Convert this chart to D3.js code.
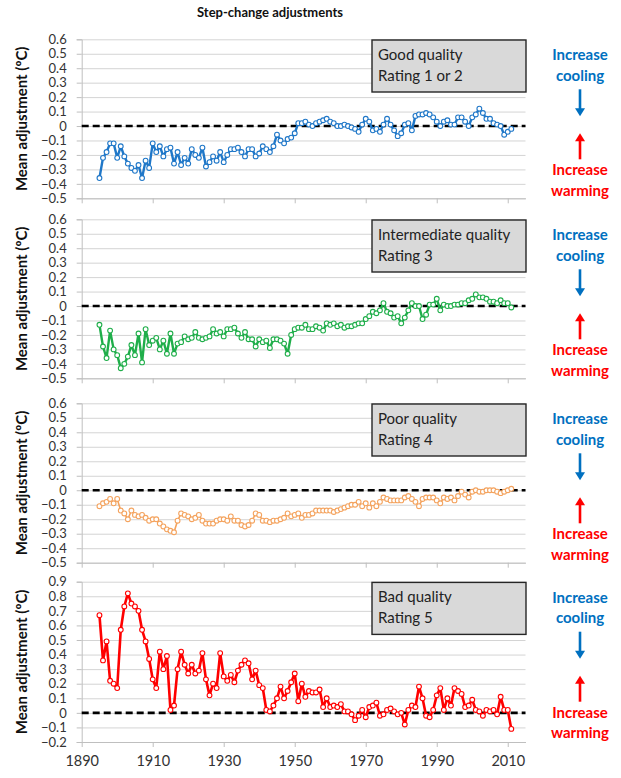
<!DOCTYPE html>
<html>
<head>
<meta charset="utf-8">
<script src="https://cdn.jsdelivr.net/npm/d3@7"></script>
<style>
  body { margin: 0; background: #fff; }
  text { font-family: Lato, "Open Sans", sans-serif; }
</style>
</head>
<body>
<svg id="chart" width="621" height="778"></svg>
<script>
// Annual mean step-change adjustments (°C), 1895–2011, by station quality rating
const years = d3.range(1895, 2012);

const goodQuality = [
  -0.36, -0.22, -0.18, -0.12, -0.12, -0.22, -0.14, -0.21, -0.26, -0.29,
  -0.31, -0.27, -0.36, -0.24, -0.29, -0.12, -0.18, -0.14, -0.21, -0.16,
  -0.15, -0.26, -0.18, -0.27, -0.22, -0.26, -0.16, -0.20, -0.22, -0.15,
  -0.28, -0.25, -0.21, -0.24, -0.18, -0.25, -0.20, -0.16, -0.16, -0.15,
  -0.18, -0.21, -0.16, -0.16, -0.21, -0.19, -0.14, -0.16, -0.18, -0.14,
  -0.06, -0.10, -0.12, -0.09, -0.08, -0.05, 0.02, 0.02, 0.03, 0.01,
  0.00, 0.02, 0.03, 0.04, 0.05, 0.03, 0.02, 0.00, 0.00, 0.01,
  0.00, -0.01, -0.02, -0.04, 0.01, 0.05, 0.03, -0.03, -0.02, -0.04,
  0.01, 0.05, 0.01, -0.03, -0.07, -0.05, 0.01, 0.02, -0.03, 0.07,
  0.08, 0.08, 0.09, 0.08, 0.06, 0.03, 0.00, 0.03, 0.04, 0.01,
  0.01, 0.06, 0.06, 0.03, 0.00, 0.06, 0.08, 0.12, 0.09, 0.05,
  0.05, 0.02, 0.01, 0.00, -0.06, -0.04, -0.02
];

const intermediateQuality = [
  -0.13, -0.28, -0.36, -0.17, -0.30, -0.34, -0.43, -0.40, -0.35, -0.27,
  -0.34, -0.19, -0.39, -0.16, -0.27, -0.24, -0.22, -0.30, -0.24, -0.33,
  -0.19, -0.33, -0.26, -0.25, -0.21, -0.23, -0.22, -0.18, -0.22, -0.23,
  -0.22, -0.21, -0.16, -0.19, -0.18, -0.21, -0.16, -0.16, -0.15, -0.19,
  -0.22, -0.18, -0.23, -0.23, -0.28, -0.23, -0.25, -0.24, -0.29, -0.23,
  -0.23, -0.24, -0.26, -0.33, -0.20, -0.16, -0.15, -0.15, -0.13, -0.16,
  -0.16, -0.14, -0.15, -0.17, -0.12, -0.13, -0.12, -0.14, -0.13, -0.15,
  -0.14, -0.14, -0.13, -0.12, -0.12, -0.09, -0.07, -0.04, -0.05, -0.03,
  0.02, -0.04, -0.05, -0.08, -0.07, -0.12, -0.08, -0.03, 0.02, 0.00,
  0.00, -0.09, -0.06, 0.01, 0.01, 0.05, -0.03, 0.01, 0.00, 0.00,
  0.01, 0.01, 0.02, 0.02, 0.04, 0.05, 0.08, 0.06, 0.06, 0.05,
  0.03, 0.03, 0.02, 0.04, 0.02, 0.02, -0.01
];

const poorQuality = [
  -0.11, -0.09, -0.08, -0.06, -0.09, -0.06, -0.14, -0.16, -0.20, -0.14,
  -0.17, -0.18, -0.17, -0.19, -0.21, -0.20, -0.20, -0.23, -0.25, -0.27,
  -0.28, -0.29, -0.21, -0.16, -0.17, -0.18, -0.20, -0.19, -0.17, -0.21,
  -0.23, -0.23, -0.23, -0.21, -0.20, -0.20, -0.21, -0.18, -0.21, -0.21,
  -0.24, -0.25, -0.24, -0.21, -0.16, -0.17, -0.21, -0.21, -0.22, -0.21,
  -0.21, -0.20, -0.19, -0.16, -0.18, -0.17, -0.16, -0.19, -0.17, -0.17,
  -0.16, -0.14, -0.14, -0.14, -0.14, -0.14, -0.15, -0.14, -0.13, -0.12,
  -0.11, -0.10, -0.10, -0.08, -0.11, -0.09, -0.12, -0.09, -0.11, -0.08,
  -0.05, -0.06, -0.07, -0.07, -0.07, -0.07, -0.05, -0.04, -0.06, -0.08,
  -0.11, -0.06, -0.05, -0.05, -0.05, -0.07, -0.09, -0.05, -0.06, -0.05,
  -0.07, -0.04, -0.01, -0.03, -0.05, -0.01, 0.00, -0.01, -0.01, 0.00,
  0.00, 0.00, -0.01, -0.02, -0.01, 0.00, 0.01
];

const badQuality = [
  0.67, 0.36, 0.49, 0.22, 0.20, 0.17, 0.57, 0.73, 0.82, 0.75,
  0.73, 0.70, 0.57, 0.49, 0.37, 0.23, 0.17, 0.42, 0.30, 0.39,
  0.02, 0.05, 0.30, 0.42, 0.33, 0.27, 0.33, 0.27, 0.29, 0.41,
  0.23, 0.12, 0.20, 0.17, 0.41, 0.25, 0.22, 0.26, 0.21, 0.29,
  0.33, 0.36, 0.34, 0.23, 0.29, 0.19, 0.17, 0.02, 0.01, 0.05,
  0.10, 0.18, 0.10, 0.15, 0.21, 0.27, 0.08, 0.20, 0.11, 0.15,
  0.14, 0.14, 0.16, 0.04, 0.10, 0.04, 0.05, 0.04, 0.06, 0.01,
  0.01, -0.01, -0.05, -0.02, 0.02, -0.03, 0.04, 0.05, 0.07, -0.02,
  -0.01, 0.02, 0.03, 0.01, -0.01, 0.00, -0.08, 0.02, 0.05, 0.04,
  0.18, 0.10, -0.02, -0.03, 0.02, 0.12, 0.17, 0.02, 0.10, 0.05,
  0.17, 0.15, 0.13, 0.04, 0.05, 0.09, 0.02, 0.01, -0.02, 0.02,
  0.01, 0.02, -0.01, 0.11, 0.02, 0.02, -0.11
];

const xTickYears = [1890, 1910, 1930, 1950, 1970, 1990, 2010];
const yTicksStandard = [-0.5, -0.4, -0.3, -0.2, -0.1, 0, 0.1, 0.2, 0.3, 0.4, 0.5, 0.6];
const yTicksBad = [-0.2, -0.1, 0, 0.1, 0.2, 0.3, 0.4, 0.5, 0.6, 0.7, 0.8, 0.9];

const qualityLabels = [
  ["Good quality", "Rating 1 or 2"],
  ["Intermediate quality", "Rating 3"],
  ["Poor quality", "Rating 4"],
  ["Bad quality", "Rating 5"]
];
const seriesColors = ["#1f77c8", "#1fae4a", "#f4a35e", "#ff0000"];

const chartTitle = "Step-change adjustments";
const yTitle = "Mean adjustment (ºC)";
const coolingText = ["Increase", "cooling"];
const warmingText = ["Increase", "warming"];
const coolingColor = "#0070c0";
const warmingColor = "#ff0000";

// Layout
const svg = d3.select("#chart");
const plotLeft = 81.7, plotRight = 525.5;
const x = d3.scaleLinear().domain([1890, 2015]).range([plotLeft, plotRight]);

const panels = [
  { top: 39.3,  bottom: 198.3, ticks: yTicksStandard, values: goodQuality,         lineWidth: 2.4 },
  { top: 219.3, bottom: 378.3, ticks: yTicksStandard, values: intermediateQuality, lineWidth: 2.4 },
  { top: 403.3, bottom: 562.7, ticks: yTicksStandard, values: poorQuality,         lineWidth: 1.6 },
  { top: 581.7, bottom: 742.0, ticks: yTicksBad,      values: badQuality,          lineWidth: 2.6 }
];

const fmt = v => (Math.abs(v) < 1e-9 ? "0" : d3.format(".1f")(v));

// Title
svg.append("text")
  .attr("x", 270).attr("y", 17)
  .attr("text-anchor", "middle")
  .attr("font-size", 13).attr("font-weight", 700)
  .attr("fill", "#111")
  .text(chartTitle);

// Arrow helper: line with a triangular head at (x, y2)
function arrow(g, cx, y1, y2, color) {
  const dir = Math.sign(y2 - y1);
  g.append("line")
    .attr("x1", cx).attr("x2", cx)
    .attr("y1", y1).attr("y2", y2 - dir * 6)
    .attr("stroke", color).attr("stroke-width", 2.6);
  g.append("path")
    .attr("d", `M${cx - 5},${y2 - dir * 8} L${cx + 5},${y2 - dir * 8} L${cx},${y2} Z`)
    .attr("fill", color);
}

panels.forEach((p, i) => {
  const [lo, hi] = d3.extent(p.ticks);
  const y = d3.scaleLinear().domain([lo, hi]).range([p.bottom, p.top]);
  const g = svg.append("g");

  // Horizontal gridlines
  g.append("g")
    .attr("transform", `translate(${plotLeft},0)`)
    .call(d3.axisLeft(y).tickValues(p.ticks).tickSizeInner(-(plotRight - plotLeft)).tickSizeOuter(0).tickFormat(""))
    .call(a => a.select(".domain").remove())
    .call(a => a.selectAll(".tick line").attr("stroke", "#d4d4d4").attr("stroke-width", 1));
  // Value axis with short outward ticks
  g.append("g")
    .attr("transform", `translate(${plotLeft},0)`)
    .call(d3.axisLeft(y).tickValues(p.ticks).tickSize(5).tickPadding(10).tickFormat(fmt))
    .call(a => a.select(".domain").attr("stroke", "#bfbfbf"))
    .call(a => a.selectAll(".tick line").attr("stroke", "#bfbfbf"))
    .call(a => a.selectAll(".tick text")
      .attr("font-family", "Lato, sans-serif")
      .attr("font-size", 13).attr("fill", "#333"));

  // Bottom axis (year ticks; labels only on the last panel)
  g.append("g")
    .attr("transform", `translate(0,${p.bottom})`)
    .call(d3.axisBottom(x).tickValues(xTickYears).tickSizeInner(5).tickSizeOuter(0)
      .tickPadding(9).tickFormat(i === panels.length - 1 ? d3.format("d") : ""))
    .call(a => a.select(".domain").attr("stroke", "#bfbfbf"))
    .call(a => a.selectAll(".tick line").attr("stroke", "#bfbfbf"))
    .call(a => a.selectAll(".tick text")
      .attr("font-family", "Lato, sans-serif")
      .attr("font-size", 14.5).attr("fill", "#333"));

  // Zero reference line
  g.append("line")
    .attr("x1", plotLeft).attr("x2", plotRight)
    .attr("y1", y(0)).attr("y2", y(0))
    .attr("stroke", "#000").attr("stroke-width", 2.6)
    .attr("stroke-dasharray", "7,4");

  // Series line and open markers
  const pts = years.map((yr, k) => [yr, p.values[k]]);
  g.append("path")
    .datum(pts)
    .attr("fill", "none")
    .attr("stroke", seriesColors[i])
    .attr("stroke-width", p.lineWidth)
    .attr("stroke-linejoin", "round")
    .attr("d", d3.line().x(d => x(d[0])).y(d => y(d[1])));
  g.append("g").selectAll("circle")
    .data(pts)
    .join("circle")
    .attr("cx", d => x(d[0]))
    .attr("cy", d => y(d[1]))
    .attr("r", 2.4)
    .attr("fill", "#fff")
    .attr("stroke", seriesColors[i])
    .attr("stroke-width", 1.1);

  // Quality label box
  const bx = 372, by = p.top + 0.7, bw = 154, bh = 52;
  g.append("rect")
    .attr("x", bx).attr("y", by).attr("width", bw).attr("height", bh)
    .attr("fill", "#d9d9d9").attr("stroke", "#262626").attr("stroke-width", 1.4);
  qualityLabels[i].forEach((t, k) => {
    g.append("text")
      .attr("x", bx + 6).attr("y", by + 20 + k * 21)
      .attr("font-size", 15).attr("fill", "#222")
      .text(t);
  });

  // Y-axis title
  const cy = (p.top + p.bottom) / 2;
  g.append("text")
    .attr("transform", `translate(27,${cy}) rotate(-90)`)
    .attr("text-anchor", "middle")
    .attr("font-size", 15).attr("font-weight", 700).attr("fill", "#111")
    .text(yTitle);

  // Cooling / warming annotations
  const ax = 580, T = p.top;
  coolingText.forEach((t, k) => {
    g.append("text")
      .attr("x", ax).attr("y", T + 21 + k * 20.5)
      .attr("text-anchor", "middle")
      .attr("font-size", 15).attr("font-weight", 700).attr("fill", coolingColor)
      .text(t);
  });
  arrow(g, ax, T + 50, T + 77, coolingColor);
  arrow(g, ax, T + 120, T + 94, warmingColor);
  warmingText.forEach((t, k) => {
    g.append("text")
      .attr("x", ax).attr("y", T + 136 + k * 20.5)
      .attr("text-anchor", "middle")
      .attr("font-size", 15).attr("font-weight", 700).attr("fill", warmingColor)
      .text(t);
  });
});
</script>
</body>
</html>
